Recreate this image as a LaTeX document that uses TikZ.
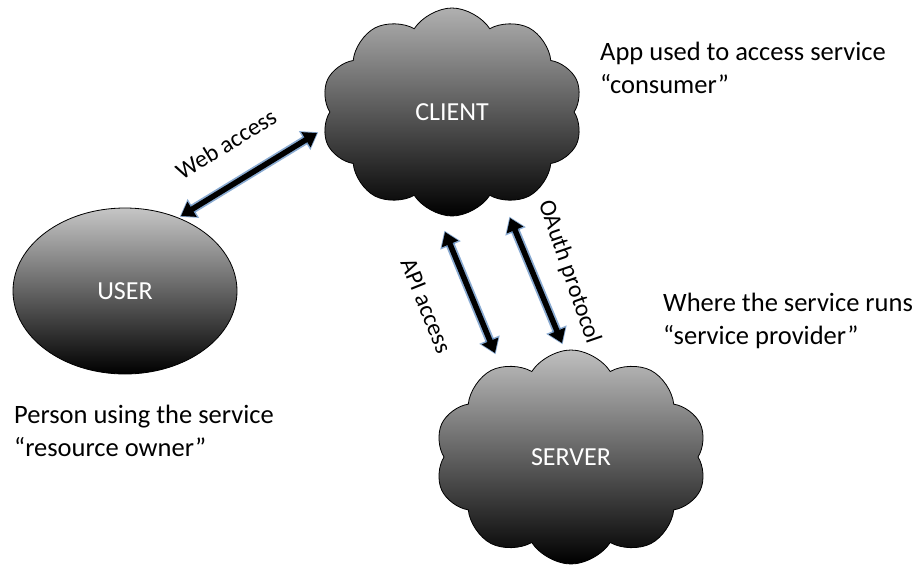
\documentclass[tikz,border=0pt]{standalone}
\usepackage{fontspec}
\setmainfont{Carlito}
\usetikzlibrary{shapes.symbols,shapes.geometric,arrows.meta}
\tikzset{
  cloudnode/.style={cloud, cloud puffs=10, cloud puff arc=115, draw=black, line width=0.8pt,
    top color=gray!62, bottom color=black, text=white, font=\fontsize{26}{30}\selectfont},
  ellnode/.style={ellipse, draw=black, line width=0.8pt, top color=gray!45, bottom color=black,
    text=white, font=\fontsize{26}{30}\selectfont},
  note/.style={align=left, anchor=west, font=\fontsize{26.5}{33}\selectfont, inner sep=0pt},
  lbl/.style={font=\fontsize{24}{28}\selectfont, inner sep=0pt},
  glow/.style={line width=9pt, draw={rgb,255:red,60;green,115;blue,180}, opacity=0.6,
    {Triangle[length=16pt,width=21pt]}-{Triangle[length=16pt,width=21pt]}, shorten <=-1.5pt, shorten >=-1.5pt},
  bidir/.style={line width=5.5pt, draw=black,
    {Triangle[length=13pt,width=17pt]}-{Triangle[length=13pt,width=17pt]}}
}
\begin{document}
\begin{tikzpicture}[x=1pt,y=-1pt]
\useasboundingbox (0,0) rectangle (914,565);
\node[cloudnode, minimum width=262pt, minimum height=208pt] (client) at (452,112) {CLIENT};
\node[cloudnode, top color=gray!50, minimum width=272pt, minimum height=214pt] (server) at (571,457) {SERVER};
\node[ellnode, minimum width=224pt, minimum height=166pt] (user) at (125,291) {USER};

\coordinate (w1) at (181,216);
\coordinate (w2) at (317,133);
\coordinate (a1) at (445,232);
\coordinate (a2) at (495,353);
\coordinate (o1) at (510,218);
\coordinate (o2) at (562,343);

\foreach \s/\e in {w1/w2,a1/a2,o1/o2}{
  \draw[glow] (\s) -- (\e);
  \draw[bidir] (\s) -- (\e);
}

\node[lbl, rotate=31.5] (lweb) at (226,144) {Web access};
\node[lbl, rotate=-68] (lapi) at (426,306) {API access};
\node[lbl, rotate=-71] (loauth) at (569,272) {OAuth protocol};

\node[note] (nclient) at (600,68) {App used to access service\\“consumer”};
\node[note] (nserver) at (663,321) {Where the service runs\\“service provider”};
\node[note] (nuser) at (14,431) {Person using the service\\“resource owner”};
\end{tikzpicture}
\end{document}
